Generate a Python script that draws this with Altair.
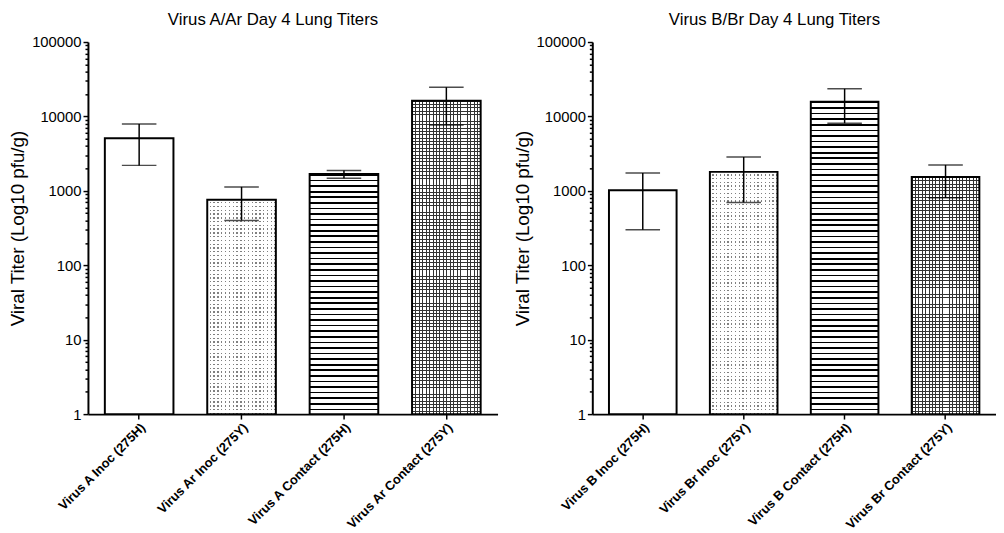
import math
import altair as alt
import pandas as pd

# ---- data ----
cats_a = ["Virus A Inoc (275H)", "Virus Ar Inoc (275Y)",
          "Virus A Contact (275H)", "Virus Ar Contact (275Y)"]
titer_a = [5100, 760, 1680, 16300]
low_a = [2200, 400, 1480, 7700]
high_a = [7900, 1130, 1880, 24700]

cats_b = ["Virus B Inoc (275H)", "Virus Br Inoc (275Y)",
          "Virus B Contact (275H)", "Virus Br Contact (275Y)"]
titer_b = [1020, 1800, 15800, 1540]
low_b = [300, 700, 8100, 810]
high_b = [1740, 2850, 23500, 2230]

patterns = ["open", "dots", "lines", "grid"]

title_a = "Virus A/Ar Day 4 Lung Titers"
title_b = "Virus B/Br Day 4 Lung Titers"
y_title = "Viral Titer (Log10 pfu/g)"

major_ticks = [1, 10, 100, 1000, 10000, 100000]
minor_ticks = [m * d for d in major_ticks[:-1] for m in range(1, 10)] + [100000]

FONT = "Liberation Sans"
H = 377
PAD_IN = 0.33
PAD_OUT = 0.165
TRANSPARENT = "rgba(255,255,255,0)"


def stripe_stops(n, frac, on, off):
    stops = []
    for i in range(n):
        a = i / n
        b = (i + frac) / n
        c = (i + 1) / n
        stops += [
            {"offset": a, "color": on},
            {"offset": b, "color": on},
            {"offset": b, "color": off},
            {"offset": c, "color": off},
        ]
    return stops


def hgrad(n, frac, on, off):
    return {"gradient": "linear", "x1": 0, "y1": 0, "x2": 0, "y2": 1,
            "stops": stripe_stops(n, frac, on, off)}


def vgrad(n, frac, on, off):
    return {"gradient": "linear", "x1": 0, "y1": 0, "x2": 1, "y2": 0,
            "stops": stripe_stops(n, frac, on, off)}


major_test = "indexof([1,10,100,1000,10000,100000], datum.value) >= 0"


def panel(cats, vals, lows, highs, title, width):
    df = pd.DataFrame({"cat": cats, "titer": vals, "low": lows,
                       "high": highs, "pattern": patterns})
    step = width / (len(cats) - PAD_IN + 2 * PAD_OUT)
    bw = step * (1 - PAD_IN)
    decade_px = H / 5

    x = alt.X("cat:N", sort=cats,
              scale=alt.Scale(paddingInner=PAD_IN, paddingOuter=PAD_OUT),
              axis=alt.Axis(title=None, labelAngle=-45, labelFontSize=13,
                            labelFontWeight="bold", tickSize=5,
                            labelPadding=2, labelFont=FONT))
    yaxis = alt.Axis(values=minor_ticks,
                     labelExpr=major_test + " ? format(datum.value, 'd') : ''",
                     tickSize={"condition": {"test": major_test, "value": 5},
                               "value": 3},
                     labelFontSize=15, labelPadding=2, labelOverlap=False,
                     title=y_title, titleFontSize=19, titleFontWeight="normal",
                     titlePadding=4, labelFont=FONT, titleFont=FONT)
    yscale = alt.Scale(type="log", domain=[1, 100000])

    def Y(field):
        return alt.Y(field, scale=yscale, axis=yaxis)

    base = alt.Chart(df)
    layers = []
    for cat, v, pat in zip(cats, vals, patterns):
        sub = base.transform_filter(alt.datum.cat == cat)
        enc = dict(x=x, y=Y("titer:Q"), y2=alt.datum(1))
        px = math.log10(v) * decade_px
        if pat == "open":
            layers.append(sub.mark_bar(fill="white").encode(**enc))
        elif pat == "dots":
            sp = 3.8
            layers.append(sub.mark_bar(fill="#808080").encode(**enc))
            layers.append(sub.mark_bar(
                fill=hgrad(max(1, round(px / sp)), 0.64, "white", TRANSPARENT)
            ).encode(**enc))
            layers.append(sub.mark_bar(
                fill=vgrad(max(1, round(bw / sp)), 0.64, "white", TRANSPARENT)
            ).encode(**enc))
        elif pat == "lines":
            sp = 5.7
            layers.append(sub.mark_bar(
                fill=hgrad(max(1, round(px / sp)), 0.3, "black", "white")
            ).encode(**enc))
        else:
            sp = 3.4
            layers.append(sub.mark_bar(fill="white").encode(**enc))
            layers.append(sub.mark_bar(
                fill=hgrad(max(1, round(px / sp)), 0.28, "#333333", TRANSPARENT)
            ).encode(**enc))
            layers.append(sub.mark_bar(
                fill=vgrad(max(1, round(bw / sp)), 0.28, "#333333", TRANSPARENT)
            ).encode(**enc))

    outline = base.mark_bar(fillOpacity=0, stroke="black", strokeWidth=2).encode(
        x=x, y=Y("titer:Q"), y2=alt.datum(1))
    rule = base.mark_rule(color="black", strokeWidth=1.5).encode(
        x=x, y=Y("low:Q"), y2="high:Q")
    cap_lo = base.mark_tick(color="black", size=35, thickness=1.5).encode(
        x=x, y=Y("low:Q"))
    cap_hi = base.mark_tick(color="black", size=35, thickness=1.5).encode(
        x=x, y=Y("high:Q"))
    layers += [outline, rule, cap_lo, cap_hi]

    return alt.layer(*layers).properties(
        width=width, height=H,
        title=alt.Title(title, fontSize=17, fontWeight="normal", font=FONT,
                        color="black", dx=-20, offset=6),
    )


left = panel(cats_a, titer_a, low_a, high_a, title_a, 415)
right = panel(cats_b, titer_b, low_b, high_b, title_b, 409)

chart = alt.hconcat(left, right, spacing=15).properties(
    padding=0
).configure_view(strokeWidth=0).configure_axis(
    domainColor="black", domainWidth=2, tickColor="black", tickWidth=1.5,
    labelColor="black", titleColor="black", grid=False,
)

chart.save("out.html", embed_options={"renderer": "svg", "actions": False})
